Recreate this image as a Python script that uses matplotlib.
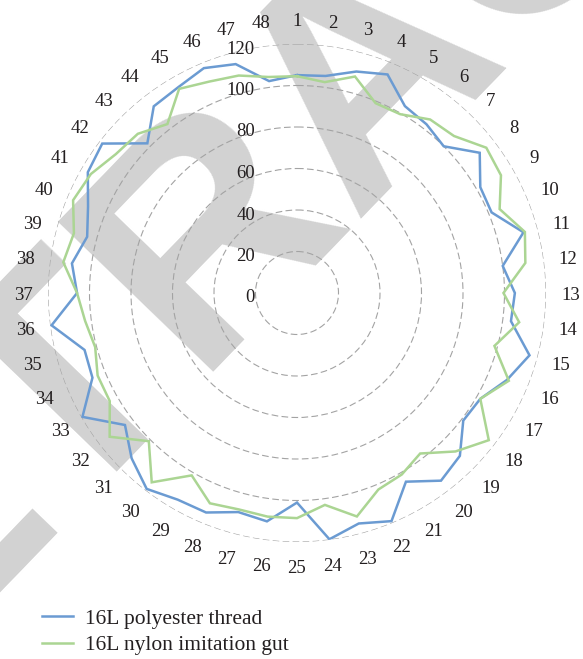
import numpy as np
import matplotlib
matplotlib.use("Agg")
import matplotlib.pyplot as plt
from matplotlib.transforms import offset_copy

plt.rcParams['font.family'] = ['Liberation Serif', 'DejaVu Serif']

# measurement points 1..48
points = [str(i) for i in range(1, 49)]

polyester = [105, 105.5, 110.5, 114, 104, 102.5, 100, 111, 102, 101.5, 113, 100,
             105, 104, 116, 109.5, 102, 101, 111, 114, 105, 119, 115, 119.7,
             101, 111, 109.3, 114.5, 115, 119, 112.7, 104.5, 119.4, 106.7, 106, 119.3,
             106, 109.4, 104.7, 109, 116.4, 118.3, 102, 113.4, 114.5, 117.3, 114.2, 103]

nylon = [104.5, 102.5, 108, 99, 99.5, 105.4, 107, 115, 113.5, 105.7, 113.7, 111,
         99.5, 108, 98.5, 110.5, 102, 116.5, 108, 97.5, 101, 102.5, 111.5, 103,
         108.5, 108.7, 108, 109.7, 101.5, 115, 101, 113.8, 104.2, 104, 100.7, 103,
         106, 113.6, 111.3, 116.8, 114.7, 110, 108.5, 102.6, 113.6, 110.3, 108.5, 105]

radial_ticks = [0, 20, 40, 60, 80, 100, 120]

series = [("16L polyester thread", polyester, "#6b9bd2"),
          ("16L nylon imitation gut", nylon, "#abd593")]

fig = plt.figure(figsize=(5.83, 6.59), dpi=100)

# watermark behind the chart
fig.text(428 / 583, 1 - 128 / 659, "RETRACTED", fontsize=225, rotation=46,
         rotation_mode='anchor', ha='center', va='baseline',
         color='#d2d2d2', family='Liberation Sans', fontweight='bold', zorder=-1)

ax = fig.add_axes([48 / 583, 1 - 542 / 659, 498 / 583, 498 / 659], projection='polar')
ax.set_facecolor('none')
ax.set_theta_zero_location('N')
ax.set_theta_direction(-1)

angles = np.arange(len(points)) * 2 * np.pi / len(points)
closed = np.append(angles, angles[0])

for label, vals, color in series:
    ax.plot(closed, np.append(vals, vals[0]), color=color, lw=1.8, label=label,
            solid_joinstyle='miter')

ax.set_ylim(0, 120)
ax.set_yticks(radial_ticks)
ax.set_yticklabels([])
ax.yaxis.grid(True, color='#a3a3a3', linestyle=(0, (6, 3)), linewidth=0.8)
ax.xaxis.grid(False)
ax.spines['polar'].set_visible(False)

ax.set_xticks(angles)
ax.set_xticklabels(points, fontsize=13.5, color='#231f20')
ax.tick_params(axis='x', pad=10.7, length=0)
for lbl in ax.get_xticklabels():
    lbl.set_va('center_baseline')

# value labels to the left of the vertical axis
shift = offset_copy(ax.transData, fig=fig, x=-42, y=-3, units='dots')
for v in radial_ticks:
    ax.text(0, v, str(v), transform=shift, ha='right', va='center_baseline',
            fontsize=13.5, color='#231f20')

leg = fig.legend(loc='center left', bbox_to_anchor=(42 / 583, 1 - 632 / 659),
                 frameon=False, fontsize=15.5, handlelength=1.45, handletextpad=0.55,
                 labelspacing=0.3, borderpad=0, borderaxespad=0)
for t in leg.get_texts():
    t.set_color('#231f20')

fig.savefig('out.png', dpi=100)
